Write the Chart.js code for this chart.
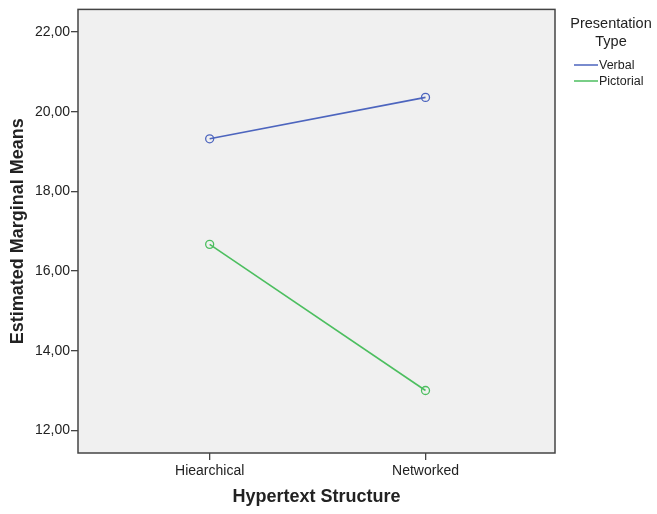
<!DOCTYPE html>
<html>
<head>
<meta charset="utf-8">
<script src="https://cdn.jsdelivr.net/npm/chart.js@4/dist/chart.umd.min.js"></script>
<style>
  html, body { margin: 0; padding: 0; background: #fff; }
  #wrap { width: 657px; height: 514px; }
</style>
</head>
<body>
<div id="wrap"><canvas id="emmChart" width="657" height="514"></canvas></div>
<script>
// data
var structures = ["Hiearchical", "Networked"];
var verbalMeans = [19.32, 20.36];
var pictorialMeans = [16.67, 13.0];
var yTickValues = [12, 14, 16, 18, 20, 22];
var seriesNames = ["Verbal", "Pictorial"];
var legendTitle = ["Presentation", "Type"];

var blue = "rgb(77,101,190)";
var green = "rgb(76,190,95)";
var axisColor = "#444444";
var textColor = "#222222";
var fontFamily = "'Liberation Sans', Arial, sans-serif";

function toPoints(values) {
    return values.map((v, i) => ({ x: i, y: v }));
}

// panel background, frame and the legend on the right
var panelPlugin = {
    id: "panel",
    beforeDatasetsDraw(chart) {
        var a = chart.chartArea, ctx = chart.ctx;
        ctx.save();
        ctx.fillStyle = "#f0f0f0";
        ctx.fillRect(a.left, a.top, a.right - a.left, a.bottom - a.top);
        ctx.restore();
    },
    afterDraw(chart) {
        var a = chart.chartArea, ctx = chart.ctx;
        ctx.save();
        ctx.strokeStyle = axisColor;
        ctx.lineWidth = 1.5;
        ctx.strokeRect(a.left, a.top, a.right - a.left, a.bottom - a.top);

        ctx.fillStyle = textColor;
        ctx.font = "14.5px " + fontFamily;
        ctx.textAlign = "center";
        ctx.textBaseline = "middle";
        ctx.fillText(legendTitle[0], 611, 24);
        ctx.fillText(legendTitle[1], 611, 42);

        ctx.font = "12.5px " + fontFamily;
        ctx.textAlign = "left";
        var colors = [blue, green];
        seriesNames.forEach((name, i) => {
            var y = 65 + i * 16;
            ctx.strokeStyle = colors[i];
            ctx.lineWidth = 1.5;
            ctx.beginPath();
            ctx.moveTo(574, y);
            ctx.lineTo(598, y);
            ctx.stroke();
            ctx.fillText(name, 599, y + 1);
        });
        ctx.restore();
    }
};

var ctx = document.getElementById("emmChart").getContext("2d");
var emmChart = new Chart(ctx, {
    type: "line",
    data: {
        datasets: [{
            label: seriesNames[0],
            data: toPoints(verbalMeans),
            borderColor: blue,
            backgroundColor: "rgba(0,0,0,0)",
            borderWidth: 1.6,
            pointRadius: 4,
            pointBorderWidth: 1.3,
            pointBackgroundColor: "rgba(0,0,0,0)",
            pointBorderColor: blue,
            tension: 0
        }, {
            label: seriesNames[1],
            data: toPoints(pictorialMeans),
            borderColor: green,
            backgroundColor: "rgba(0,0,0,0)",
            borderWidth: 1.6,
            pointRadius: 4,
            pointBorderWidth: 1.3,
            pointBackgroundColor: "rgba(0,0,0,0)",
            pointBorderColor: green,
            tension: 0
        }]
    },
    options: {
        responsive: false,
        animation: false,
        layout: { padding: { left: 0, right: 102, top: 7, bottom: 0 } },
        plugins: {
            legend: { display: false },
            tooltip: { enabled: false }
        },
        scales: {
            x: {
                type: "linear",
                min: -0.61,
                max: 1.6,
                afterBuildTicks(axis) {
                    axis.ticks = structures.map((s, i) => ({ value: i }));
                },
                afterFit(axis) { axis.height = 61; },
                grid: { display: true, drawOnChartArea: false, tickLength: 7, color: axisColor, lineWidth: 1.3 },
                border: { display: false },
                ticks: {
                    color: textColor,
                    padding: 3,
                    maxRotation: 0,
                    font: { family: fontFamily, size: 14 },
                    callback: (v) => structures[v]
                },
                title: {
                    display: true,
                    text: "Hypertext Structure",
                    color: textColor,
                    font: { family: fontFamily, size: 18, weight: "bold" },
                    padding: { top: 0, bottom: 6 }
                }
            },
            y: {
                min: 11.43,
                max: 22.57,
                afterBuildTicks(axis) {
                    axis.ticks = yTickValues.map((v) => ({ value: v }));
                },
                afterFit(axis) { axis.width = 78; },
                grid: { display: true, drawOnChartArea: false, tickLength: 7, color: axisColor, lineWidth: 1.3 },
                border: { display: false },
                ticks: {
                    color: textColor,
                    padding: 1,
                    font: { family: fontFamily, size: 14 },
                    callback: (v) => v.toFixed(2).replace(".", ",")
                },
                title: {
                    display: true,
                    text: "Estimated Marginal Means",
                    color: textColor,
                    font: { family: fontFamily, size: 18, weight: "bold" },
                    padding: { top: 7, bottom: 0 }
                }
            }
        }
    },
    plugins: [panelPlugin]
});
</script>
</body>
</html>
